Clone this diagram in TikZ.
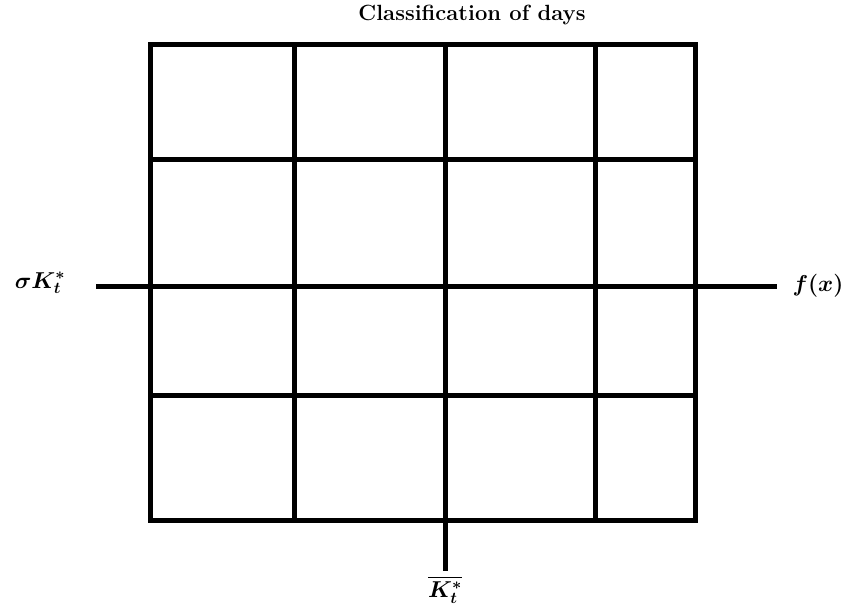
\RequirePackage{fix-cm}
\documentclass[tikz,border=0pt]{standalone}
\usepackage{amsmath,bm}
\tikzset{gridline/.style={line width=5pt,line cap=rect},
  axisline/.style={line width=5pt},
  lbl/.style={inner sep=0pt,font=\fontsize{23}{27}\selectfont}}
\begin{document}
\begin{tikzpicture}[x=1pt,y=-1pt]
\useasboundingbox (0,0) rectangle (849,609);
% grid
\foreach \x in {150.5,294.5,445.5,595.5,695} \draw[gridline] (\x,44.5) -- (\x,520.5);
\foreach \y in {44.5,159.5,286.5,395.5,520.5} \draw[gridline] (150.5,\y) -- (695,\y);
% axes
\coordinate (hl) at (96,286.5);
\coordinate (hr) at (777,286.5);
\coordinate (vt) at (445.5,520.5);
\coordinate (vb) at (445.5,571);
\draw[axisline] (hl) -- (hr);
\draw[axisline] (vt) -- (vb);
% labels
\node[lbl] (title) at (472,15) {\fontsize{22}{26}\selectfont\bfseries Classification of days};
\node[lbl] (left) at (40,283) {$\bm{\sigma K_t^*}$};
\node[lbl] (right) at (818,286) {$\bm{f(x)}$};
\node[lbl] (bottom) at (445,590) {$\overline{\bm{K_t^*}}$};
\end{tikzpicture}
\end{document}
